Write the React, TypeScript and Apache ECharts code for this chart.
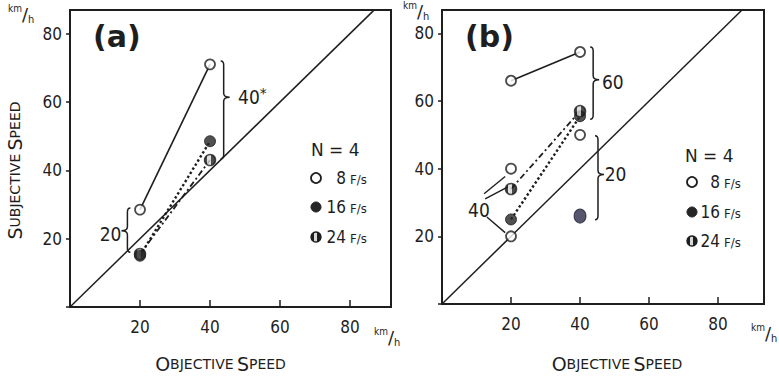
import React, { useEffect, useRef } from 'react';
import * as echarts from 'echarts';

const FONT_NUM = '"Liberation Sans Narrow", "DejaVu Sans Condensed", "Liberation Sans", sans-serif';
const FONT = '"DejaVu Sans", "Liberation Sans", sans-serif';
const INK = '#1e1e1e';

// ---------- Panel (a) ----------
const a8 = [[20, 28.5], [40, 71]];
const a16 = [[20, 15], [40, 48.5]];
const a24 = [[20, 15.5], [40, 43]];
// ---------- Panel (b) ----------
const b8Line = [[20, 66], [40, 74.5]];
const b8Points = [[20, 66], [40, 74.5], [20, 40], [40, 50], [20, 20]];
const b16Line = [[20, 25], [40, 55.5]];
const b16Extra = [[40, 26]];
const b24 = [[20, 34], [40, 57]];
// identity line (objective = subjective)
const identity = [[0, 0], [87, 87]];

// braces: [x, yTop, yBottom, direction (1 = "}", -1 = "{"), tipY]
const aBraces = [[16.4, 29, 16, -1, 22.3], [43.9, 72, 43.4, 1, 61.4]];
const bBraces = [[43.8, 76, 54.6, 1, 66.3], [45.2, 49.7, 24.9, 1, 38.3]];
const aBraceLabels = [{ name: '20', value: [11.6, 21.4] }, { name: '40*', value: [52.1, 61.4] }];
const bBraceLabels = [{ name: '60', value: [49.5, 65.6] }, { name: '20', value: [50.3, 38.3] }];
const bLeaderLabel = [{ name: '40', value: [10.7, 27.7] }];
const bLeaders = [
  [[12.2, 32.6], [18.3, 37.7]],
  [[12.5, 31.1], [19.1, 34.6]],
  [[13.0, 25.7], [18.3, 21.1]],
];

const xTickLabels = ['20', '40', '60', '80'];
const legendNames = ['8', '16', '24'];

const halfFill = () =>
  new echarts.graphic.LinearGradient(0, 0, 1, 0, [
    { offset: 0, color: INK },
    { offset: 0.25, color: INK },
    { offset: 0.25, color: '#d8d8d8' },
    { offset: 0.55, color: '#d8d8d8' },
    { offset: 0.55, color: INK },
    { offset: 1, color: INK },
  ]);

const openStyle = { color: '#fff', borderColor: INK, borderWidth: 1.8 };
const darkStyle = { color: '#262626', borderColor: INK, borderWidth: 1 };

function tickFmt(v: number) {
  const s = String(Math.round(v));
  return xTickLabels.includes(s) && Math.abs(v - Math.round(v)) < 1e-6 ? s : '';
}

function braceSeries(data: number[][], gi: number) {
  return {
    type: 'custom',
    xAxisIndex: gi,
    yAxisIndex: gi,
    coordinateSystem: 'cartesian2d',
    data,
    encode: { x: 0, y: 1 },
    silent: true,
    z: 5,
    renderItem: (params: any, api: any) => {
      const x = api.value(0), y1 = api.value(1), y2 = api.value(2), dir = api.value(3), ym = api.value(4);
      const p1 = api.coord([x, y1]);
      const p2 = api.coord([x, y2]);
      const pm = api.coord([x, ym]);
      const X = p1[0], T = p1[1], B = p2[1], M = pm[1];
      const w = 6 * dir, c = 4, e = 3 * dir;
      const d = `M${X - e} ${T} Q${X} ${T} ${X} ${T + c} L${X} ${M - c} Q${X} ${M} ${X + w} ${M} Q${X} ${M} ${X} ${M + c} L${X} ${B - c} Q${X} ${B} ${X - e} ${B}`;
      return { type: 'path', shape: { pathData: d }, style: { fill: 'none', stroke: INK, lineWidth: 1.5 } };
    },
  };
}

function textSeries(data: { name: string; value: number[] }[], gi: number) {
  return {
    type: 'custom',
    xAxisIndex: gi,
    yAxisIndex: gi,
    coordinateSystem: 'cartesian2d',
    data,
    encode: { x: 0, y: 1 },
    silent: true,
    z: 6,
    renderItem: (params: any, api: any) => {
      const p = api.coord([api.value(0), api.value(1)]);
      const name = data[params.dataIndex].name;
      const txt = name.endsWith('*') ? name.slice(0, -1) + '{s|*}' : name;
      return {
        type: 'text',
        x: p[0],
        y: p[1],
        style: {
          text: txt,
          fontFamily: FONT_NUM,
          fontSize: 19,
          lineHeight: 22,
          fill: INK,
          align: 'center',
          verticalAlign: 'middle',
          rich: { s: { fontSize: 14, fontFamily: FONT, verticalAlign: 'top', lineHeight: 22, fill: INK } },
        },
      };
    },
  };
}

function lineSeries(name: string, data: number[][], gi: number, type: any, width = 1.6) {
  return {
    name,
    type: 'line',
    xAxisIndex: gi,
    yAxisIndex: gi,
    data,
    symbol: 'none',
    lineStyle: { color: INK, width, type },
    z: 3,
  };
}

function pointSeries(name: string, data: number[][], gi: number, itemStyle: any, size: any = 10) {
  return {
    name,
    type: 'scatter',
    xAxisIndex: gi,
    yAxisIndex: gi,
    data,
    symbol: 'circle',
    symbolSize: size,
    itemStyle,
    z: 4,
  };
}

function xAxis(gi: number, max: number, nameGap: number, pad: number[]) {
  return {
    gridIndex: gi,
    type: 'value',
    min: 0,
    max,
    interval: 20,
    axisLine: { show: false },
    splitLine: { show: false },
    axisTick: { inside: true, length: 7, lineStyle: { color: INK, width: 1.5 } },
    axisLabel: { formatter: tickFmt, fontFamily: FONT_NUM, fontSize: 17, color: INK, margin: 11, showMaxLabel: false },
    name: '{b|O}{s|BJECTIVE} {b|S}{s|PEED}',
    nameLocation: 'middle',
    nameGap,
    nameTextStyle: {
      padding: pad,
      rich: {
        b: { fontFamily: FONT, fontSize: 19, color: INK },
        s: { fontFamily: FONT, fontSize: 14, color: INK },
      },
    },
  };
}

function yAxis(gi: number, withName: boolean) {
  return {
    gridIndex: gi,
    type: 'value',
    min: 0,
    max: 86.9,
    interval: 20,
    axisLine: { show: false },
    splitLine: { show: false },
    axisTick: { inside: false, length: 4, lineStyle: { color: INK, width: 1.5 } },
    axisLabel: { formatter: tickFmt, fontFamily: FONT_NUM, fontSize: 17, color: INK, margin: 8, showMaxLabel: false },
    name: withName ? '{b|S}{s|UBJECTIVE} {b|S}{s|PEED}' : '',
    nameLocation: 'middle',
    nameGap: 46,
    nameTextStyle: {
      padding: [0, 24, 0, 0],
      rich: {
        b: { fontFamily: FONT, fontSize: 19, color: INK },
        s: { fontFamily: FONT, fontSize: 14, color: INK },
      },
    },
  };
}

function unitText(x: number, y: number) {
  return {
    type: 'text',
    x,
    y,
    style: {
      text: '{t|km}{l|/}{h|h}',
      fill: INK,
      rich: {
        t: { fontFamily: FONT_NUM, fontSize: 10, verticalAlign: 'top', lineHeight: 22, fill: INK },
        l: { fontFamily: FONT, fontSize: 18, lineHeight: 22, fill: INK },
        h: { fontFamily: FONT_NUM, fontSize: 11, verticalAlign: 'bottom', lineHeight: 22, fill: INK },
      },
    },
  };
}

function legendBlock(nx: number, ny: number, sx: number, rows: number[], numRight: number) {
  const els: any[] = [
    { type: 'text', x: nx, y: ny, style: { text: 'N = 4', fontFamily: FONT, fontSize: 17, fill: INK, verticalAlign: 'middle' } },
  ];
  const fills = [
    { fill: '#fff', stroke: INK, lineWidth: 1.8 },
    { fill: '#262626', stroke: INK, lineWidth: 1 },
    { fill: halfFill(), stroke: INK, lineWidth: 1.5 },
  ];
  rows.forEach((ry, i) => {
    els.push({ type: 'circle', shape: { cx: sx, cy: ry, r: 5 }, style: fills[i] });
    els.push({
      type: 'text', x: numRight, y: ry,
      style: { text: legendNames[i], fontFamily: FONT_NUM, fontSize: 17, fill: INK, align: 'right', verticalAlign: 'middle' },
    });
    els.push({
      type: 'text', x: numRight + 4, y: ry + 1,
      style: { text: 'F/s', fontFamily: FONT_NUM, fontSize: 13, fill: INK, align: 'left', verticalAlign: 'middle' },
    });
  });
  return els;
}

export default function App() {
  const ref = useRef<HTMLDivElement>(null);
  useEffect(() => {
    if (!ref.current) return;
    const chart = echarts.init(ref.current, null, { renderer: 'svg' });
    const option: any = {
      animation: false,
      backgroundColor: '#fff',
      grid: [
        { left: 70, top: 10, width: 321, height: 304, show: true, borderColor: INK, borderWidth: 2, backgroundColor: 'transparent' },
        { left: 442, top: 10, width: 322, height: 304, show: true, borderColor: INK, borderWidth: 2, backgroundColor: 'transparent' },
      ],
      xAxis: [xAxis(0, 91.7, 47, [0, 20, 0, 0]), xAxis(1, 93.3, 50, [0, 0, 0, 28])],
      yAxis: [yAxis(0, true), yAxis(1, false)],
      series: [
        // panel (a)
        lineSeries('identity', identity, 0, 'solid', 1.5),
        lineSeries('8 F/s', a8, 0, 'solid'),
        lineSeries('16 F/s', a16, 0, 'dotted', 2.4),
        lineSeries('24 F/s', a24, 0, [6, 3, 2, 3], 1.8),
        pointSeries('8 F/s', a8, 0, openStyle),
        pointSeries('24 F/s', a24, 0, { color: halfFill(), borderColor: INK, borderWidth: 1.5 }, 11),
        pointSeries('16 F/s', a16, 0, darkStyle, 11),
        braceSeries(aBraces, 0),
        textSeries(aBraceLabels, 0),
        // panel (b)
        lineSeries('identity', identity, 1, 'solid', 1.5),
        lineSeries('8 F/s', b8Line, 1, 'solid'),
        lineSeries('16 F/s', b16Line, 1, 'dotted', 2.4),
        lineSeries('24 F/s', b24, 1, [6, 3, 2, 3], 1.8),
        pointSeries('8 F/s', b8Points, 1, openStyle),
        pointSeries('16 F/s', b16Line, 1, darkStyle, 11),
        pointSeries('16 F/s', b16Extra, 1, { color: '#2a2a48', borderColor: '#22223a', borderWidth: 1 }, [12, 14]),
        pointSeries('24 F/s', b24, 1, { color: halfFill(), borderColor: INK, borderWidth: 1.5 }, 11),
        {
          type: 'lines',
          coordinateSystem: 'cartesian2d',
          xAxisIndex: 1,
          yAxisIndex: 1,
          data: bLeaders.map((c) => ({ coords: c })),
          lineStyle: { color: INK, width: 1.4, opacity: 1 },
          silent: true,
          z: 3,
        },
        braceSeries(bBraces, 1),
        textSeries(bBraceLabels, 1),
        textSeries(bLeaderLabel, 1),
      ],
      graphic: [
        { type: 'text', x: 93, y: 36, style: { text: '(a)', fontFamily: FONT, fontWeight: 'bold', fontSize: 30, fill: INK, verticalAlign: 'middle' } },
        { type: 'text', x: 465, y: 36, style: { text: '(b)', fontFamily: FONT, fontWeight: 'bold', fontSize: 30, fill: INK, verticalAlign: 'middle' } },
        unitText(8, 3),
        unitText(374, 326),
        unitText(403, 0),
        unitText(751, 322),
        ...legendBlock(311, 150, 316, [178, 207, 237], 346),
        ...legendBlock(685, 156, 692, [182, 212, 241], 720),
      ],
    };
    chart.setOption(option);
    return () => chart.dispose();
  }, []);
  return <div ref={ref} style={{ position: 'fixed', left: 0, top: 0, width: 779, height: 378 }} />;
}
